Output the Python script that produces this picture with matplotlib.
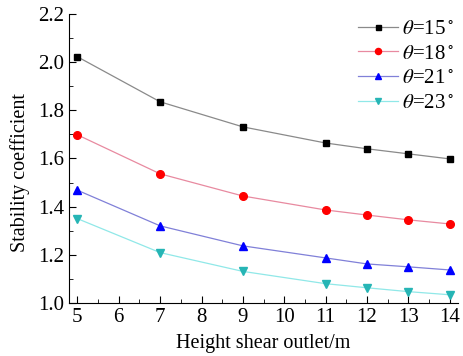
import numpy as np
import matplotlib
matplotlib.use('Agg')
import matplotlib.pyplot as plt
from matplotlib.ticker import MultipleLocator

plt.rcParams['font.family'] = ['Liberation Serif', 'DejaVu Serif']
plt.rcParams['mathtext.fontset'] = 'stix'

height = [5, 7, 9, 11, 12, 13, 14]
k15 = [2.022, 1.835, 1.731, 1.664, 1.640, 1.619, 1.598]
k18 = [1.698, 1.536, 1.444, 1.386, 1.365, 1.345, 1.328]
k21 = [1.468, 1.320, 1.237, 1.187, 1.162, 1.150, 1.137]
k23 = [1.350, 1.209, 1.131, 1.080, 1.063, 1.047, 1.034]
labels = [r'$\theta$=15$^\circ$', r'$\theta$=18$^\circ$',
          r'$\theta$=21$^\circ$', r'$\theta$=23$^\circ$']

fig = plt.figure(figsize=(4.64, 3.56), dpi=100)
ax = fig.add_axes([0.149, 0.149, 0.838, 0.812])

# series: line colour, marker, marker colour, marker size
styles = [('#8a8a8a', 's', 'black', 4.5),
          ('#e88aa0', 'o', 'red', 5.5),
          ('#8080d8', '^', 'blue', 6),
          ('#90e8e8', 'v', '#26b5b5', 6)]
for ys, lab, (lc, mk, mc, ms) in zip([k15, k18, k21, k23], labels, styles):
    ax.plot(height, ys, color=lc, lw=0.9, marker=mk, ms=ms,
            mfc=mc, mec=mc, label=lab)

ax.set_xlim(4.8, 14.2)
ax.set_ylim(1.0, 2.2)
ax.xaxis.set_major_locator(MultipleLocator(1))
ax.xaxis.set_minor_locator(MultipleLocator(0.5))
ax.yaxis.set_major_locator(MultipleLocator(0.2))
ax.yaxis.set_minor_locator(MultipleLocator(0.1))
ax.tick_params(which='both', direction='in', labelsize=15, top=False, right=False)
ax.tick_params(which='major', length=5)
ax.tick_params(which='minor', length=3)
ax.spines['top'].set_visible(False)
ax.spines['right'].set_visible(False)

ax.set_xlabel('Height shear outlet/m', fontsize=14.5, labelpad=5)
ax.set_ylabel('Stability coefficient', fontsize=14.5, labelpad=5)
ax.yaxis.set_label_coords(-0.10, 0.45)

ax.legend(loc='upper right', frameon=False, fontsize=15, handlelength=1.9,
          handletextpad=0.2, labelspacing=0.25, borderaxespad=0.0,
          markerscale=0.8, bbox_to_anchor=(1.01, 1.01))

plt.savefig('out.png', dpi=100)
